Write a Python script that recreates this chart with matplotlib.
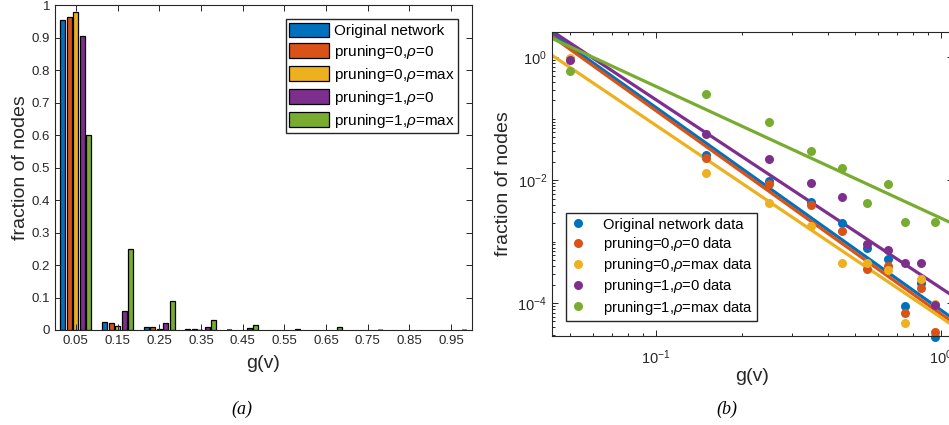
import matplotlib
matplotlib.use("Agg")
import matplotlib.pyplot as plt
import numpy as np
from matplotlib.ticker import FixedLocator, LogLocator, NullFormatter

plt.rcParams['font.family'] = ['Liberation Sans', 'DejaVu Sans']
plt.rcParams['mathtext.fontset'] = 'custom'
plt.rcParams['mathtext.rm'] = 'Liberation Sans'
plt.rcParams['mathtext.it'] = 'Liberation Sans:italic'

# Data
g = [0.05, 0.15, 0.25, 0.35, 0.45, 0.55, 0.65, 0.75, 0.85, 0.95]
series = ["Original network", "pruning=0,$\\rho$=0", "pruning=0,$\\rho$=max",
          "pruning=1,$\\rho$=0", "pruning=1,$\\rho$=max"]
orig = [0.955, 0.026, 0.0098, 0.0045, 0.0020, 0.00079, 0.00052, 0.000089, 0.00021, 0.000028]
p0_r0 = [0.962, 0.023, 0.0087, 0.0040, 0.0015, 0.00036, 0.00040, 0.000070, 0.000178, 0.000034]
p0_rmax = [0.980, 0.013, 0.0042, 0.0018, 0.00045, 0.00045, 0.00034, 0.000048, 0.00025, 0.000096]
p1_r0 = [0.905, 0.057, 0.022, 0.0091, 0.0054, 0.00090, 0.00072, 0.00045, 0.00045, 0.000093]
p1_rmax = [0.600, 0.250, 0.090, 0.030, 0.016, 0.0043, 0.0087, 0.0021, 0.0, 0.0021]
values = [orig, p0_r0, p0_rmax, p1_r0, p1_rmax]

# power-law fits y = a * g^b
fit_a = [7.66e-5, 6.6e-5, 5.82e-5, 1.75e-4, 2.41e-3]
fit_b = [-3.30, -3.314, -3.129, -3.068, -2.146]

colors = ['#0072BD', '#D95319', '#EDB120', '#7E2F8E', '#77AC30']
axcol = '#262626'

fig = plt.figure(figsize=(9.49, 4.25), dpi=100)

# ---------- (a) grouped bars ----------
ax1 = fig.add_axes([55/949, 95/425, 417/949, 325/425])
gx = np.array(g)
step = 0.0156
for i, (vals, c) in enumerate(zip(values, colors)):
    bars = ax1.bar(gx + (i - 2) * step, vals, width=0.012, color=c,
                   edgecolor='black', linewidth=0.9, label=series[i])
    # bars too small to see at this scale vanish like in the original
    for p in bars:
        if p.get_height() < 0.0025:
            p.set_linewidth(0)
ax1.set_xlim(0, 1)
ax1.set_ylim(0, 1)
ax1.set_xticks(g)
ax1.set_xticklabels([f"{v:.2f}" for v in g])
ax1.set_yticks(np.arange(0, 1.01, 0.1))
ax1.set_yticklabels(["0"] + [f"{v:.1f}" for v in np.arange(0.1, 0.95, 0.1)] + ["1"])
ax1.set_xlabel("g(v)", fontsize=14, color=axcol, labelpad=6)
ax1.set_ylabel("fraction of nodes", fontsize=14, color=axcol, labelpad=2)
ax1.legend(loc='upper right', bbox_to_anchor=(1.0, 1.0), borderaxespad=0.9,
           fontsize=11, handlelength=2.6, handleheight=1.1, handletextpad=0.3,
           labelspacing=0.32, borderpad=0.25, fancybox=False, edgecolor=axcol,
           framealpha=1)

# ---------- (b) log-log with fits ----------
ax2 = fig.add_axes([552/949, 89/425, 401/949, 304/425])
xmin, xmax = 0.04316, 1.102
xf = np.logspace(np.log10(xmin), np.log10(xmax), 100)
for a, b, c in zip(fit_a, fit_b, colors):
    ax2.plot(xf, a * xf ** b, color=c, linewidth=2.3)
for i, (vals, c) in enumerate(zip(values, colors)):
    v = np.array(vals, dtype=float)
    v[v <= 0] = np.nan
    ax2.plot(g, v, 'o', color=c, markersize=6.5, markeredgewidth=0,
             clip_on=False, label=series[i] + " data")
ax2.set_xscale('log')
ax2.set_yscale('log')
ax2.set_xlim(xmin, xmax)
ax2.set_ylim(2.9e-5, 2.6)
ax2.xaxis.set_major_locator(FixedLocator([0.1, 1.0]))
ax2.set_xticklabels(["10$^{-1}$", "10$^{0}$"])
ax2.xaxis.set_minor_locator(LogLocator(base=10, subs=np.arange(2, 10), numticks=20))
ax2.xaxis.set_minor_formatter(NullFormatter())
ax2.yaxis.set_major_locator(FixedLocator([1e-4, 1e-2, 1.0]))
ax2.set_yticklabels(["10$^{-4}$", "10$^{-2}$", "10$^{0}$"])
ax2.yaxis.set_minor_locator(LogLocator(base=10, subs=np.arange(1, 10), numticks=20))
ax2.yaxis.set_minor_formatter(NullFormatter())
ax2.set_xlabel("g(v)", fontsize=14, color=axcol, labelpad=1)
ax2.set_ylabel("fraction of nodes", fontsize=14, color=axcol, labelpad=4)
ax2.legend(loc='lower left', bbox_to_anchor=(14/401, 15/304), borderaxespad=0,
           fontsize=10.6, handlelength=1.0, handletextpad=1.2, labelspacing=0.22,
           borderpad=0.3, fancybox=False, edgecolor=axcol, framealpha=1)

for ax in (ax1, ax2):
    ax.tick_params(which='both', direction='in', top=True, right=True,
                   colors=axcol, labelsize=9.5, width=0.7)
    ax.tick_params(which='major', length=4)
    ax.tick_params(which='minor', length=2)
    for s in ax.spines.values():
        s.set_color(axcol)
        s.set_linewidth(0.8)
ax2.tick_params(axis='both', which='major', labelsize=10.5)
ax2.tick_params(axis='x', which='major', pad=9)

# captions
fig.text(242/949, 1 - 409/425, "(a)", family='Liberation Serif', style='italic',
         fontsize=13, ha='center', va='center')
fig.text(727/949, 1 - 409/425, "(b)", family='Liberation Serif', style='italic',
         fontsize=13, ha='center', va='center')

fig.savefig("out.png", dpi=100)
